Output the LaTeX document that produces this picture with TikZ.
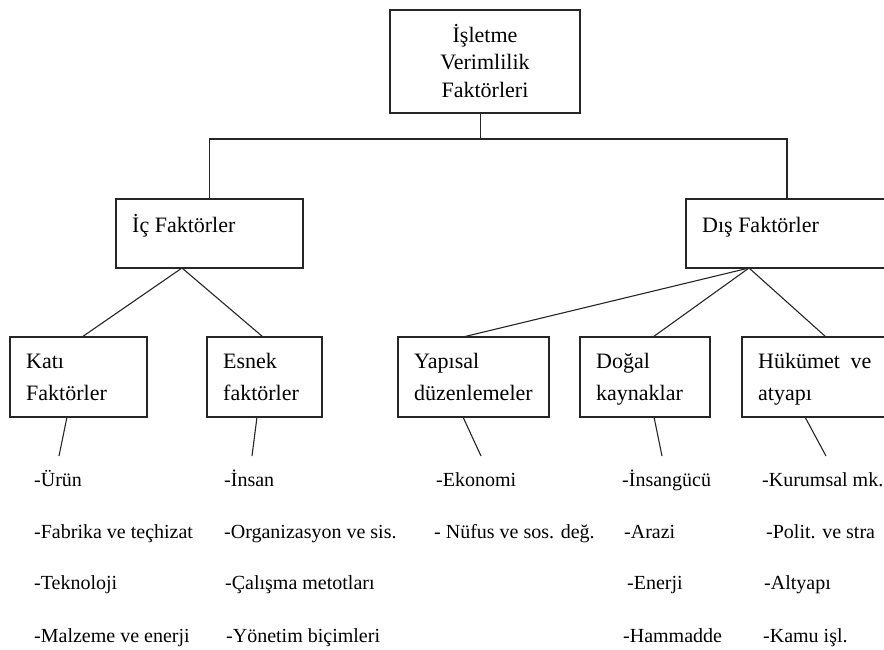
\documentclass[tikz,border=0pt]{standalone}
\usepackage{fontspec}
\setmainfont{Liberation Serif}
\begin{document}
\begin{tikzpicture}[x=1pt,y=-1pt,
  box/.style={draw=black!85, line width=1.1pt, inner sep=0pt, outer sep=0pt, anchor=north west},
  conn/.style={draw=black!85, line width=1.1pt},
  boxtxt/.style={anchor=base west, inner sep=0pt, font=\fontsize{22}{26}\selectfont},
  ttltxt/.style={anchor=base, inner sep=0pt, font=\fontsize{22}{26}\selectfont},
  item/.style={anchor=base west, inner sep=0pt, font=\fontsize{20}{24}\selectfont}]
\useasboundingbox (0,0) rectangle (884,650);
% boxes
\node[box, minimum width=190pt, minimum height=103pt] (title) at (390,10) {};
\node[box, minimum width=187pt, minimum height=69pt] (ic) at (116,199) {};
\node[box, minimum width=202pt, minimum height=69pt] (dis) at (686,199) {};
\node[box, minimum width=137pt, minimum height=80pt] (kati) at (10,337) {};
\node[box, minimum width=115pt, minimum height=80pt] (esnek) at (207,337) {};
\node[box, minimum width=151pt, minimum height=80pt] (yapisal) at (398,337) {};
\node[box, minimum width=130pt, minimum height=80pt] (dogal) at (580,337) {};
\node[box, minimum width=160pt, minimum height=80pt] (hukumet) at (742,337) {};
% connectors
\coordinate (bar) at ([xshift=-4.5pt,yshift=-26pt]title.south);
\draw[conn] ([xshift=-4.5pt]title.south) -- (bar);
\draw[conn] (ic.north) |- (bar) -| (dis.north);
\coordinate (icb) at ([xshift=66pt]ic.south west);
\coordinate (disb) at ([xshift=63pt]dis.south west);
\draw[conn] ([xshift=72pt]kati.north west) -- (icb) -- ([xshift=56pt]esnek.north west);
\draw[conn] ([xshift=65pt]yapisal.north west) -- (disb);
\draw[conn] ([xshift=73pt]dogal.north west) -- (disb);
\draw[conn] ([xshift=84pt]hukumet.north west) -- (disb);
\coordinate (katiend) at (59,456);
\coordinate (esnekend) at (252,456);
\coordinate (yapisalend) at (481,456);
\coordinate (dogalend) at (662,456);
\coordinate (hukumetend) at (826,456);
\draw[conn] ([xshift=57pt]kati.south west) -- (katiend);
\draw[conn] ([xshift=50pt]esnek.south west) -- (esnekend);
\draw[conn] ([xshift=65pt]yapisal.south west) -- (yapisalend);
\draw[conn] ([xshift=74pt]dogal.south west) -- (dogalend);
\draw[conn] ([xshift=63pt]hukumet.south west) -- (hukumetend);
% box texts
\node[ttltxt] (t1) at (485,43) {İşletme};
\node[ttltxt] (t2) at (485,70) {Verimlilik};
\node[ttltxt] (t3) at (485,98) {Faktörleri};
\node[boxtxt] (ictxt) at (132,232) {İç Faktörler};
\node[boxtxt] (distxt) at (702,232) {Dış Faktörler};
\node[boxtxt] (k1) at (26,368) {Katı};
\node[boxtxt] (k2) at (26,400) {Faktörler};
\node[boxtxt] (e1) at (223,368) {Esnek};
\node[boxtxt] (e2) at (223,400) {faktörler};
\node[boxtxt] (y1) at (414,368) {Yapısal};
\node[boxtxt] (y2) at (414,400) {düzenlemeler};
\node[boxtxt] (d1) at (596,368) {Doğal};
\node[boxtxt] (d2) at (596,400) {kaynaklar};
\node[boxtxt] (h1) at (758,368) {Hükümet\hspace{5pt} ve};
\node[boxtxt] (h2) at (758,400) {atyapı};
% items
\node[item] (ka) at (34,486) {-Ürün};
\node[item] (kb) at (34,538) {-Fabrika ve teçhizat};
\node[item] (kc) at (34,589) {-Teknoloji};
\node[item] (kd) at (34,642) {-Malzeme ve enerji};
\node[item] (ea) at (224,486) {-İnsan};
\node[item] (eb) at (224,538) {-Organizasyon ve sis.};
\node[item] (ec) at (225,589) {-Çalışma metotları};
\node[item] (ed) at (226,642) {-Yönetim biçimleri};
\node[item] (ya) at (436,486) {-Ekonomi};
\node[item] (yb) at (434,538) {- Nüfus ve sos. değ.};
\node[item] (da) at (622,486) {-İnsangücü};
\node[item] (db) at (624,538) {-Arazi};
\node[item] (dc) at (627,589) {-Enerji};
\node[item] (dd) at (623,642) {-Hammadde};
\node[item] (ha) at (762,486) {-Kurumsal mk.};
\node[item] (hb) at (766,538) {-Polit. ve stra};
\node[item] (hc) at (764,589) {-Altyapı};
\node[item] (hd) at (763,642) {-Kamu işl.};
\end{tikzpicture}
\end{document}
